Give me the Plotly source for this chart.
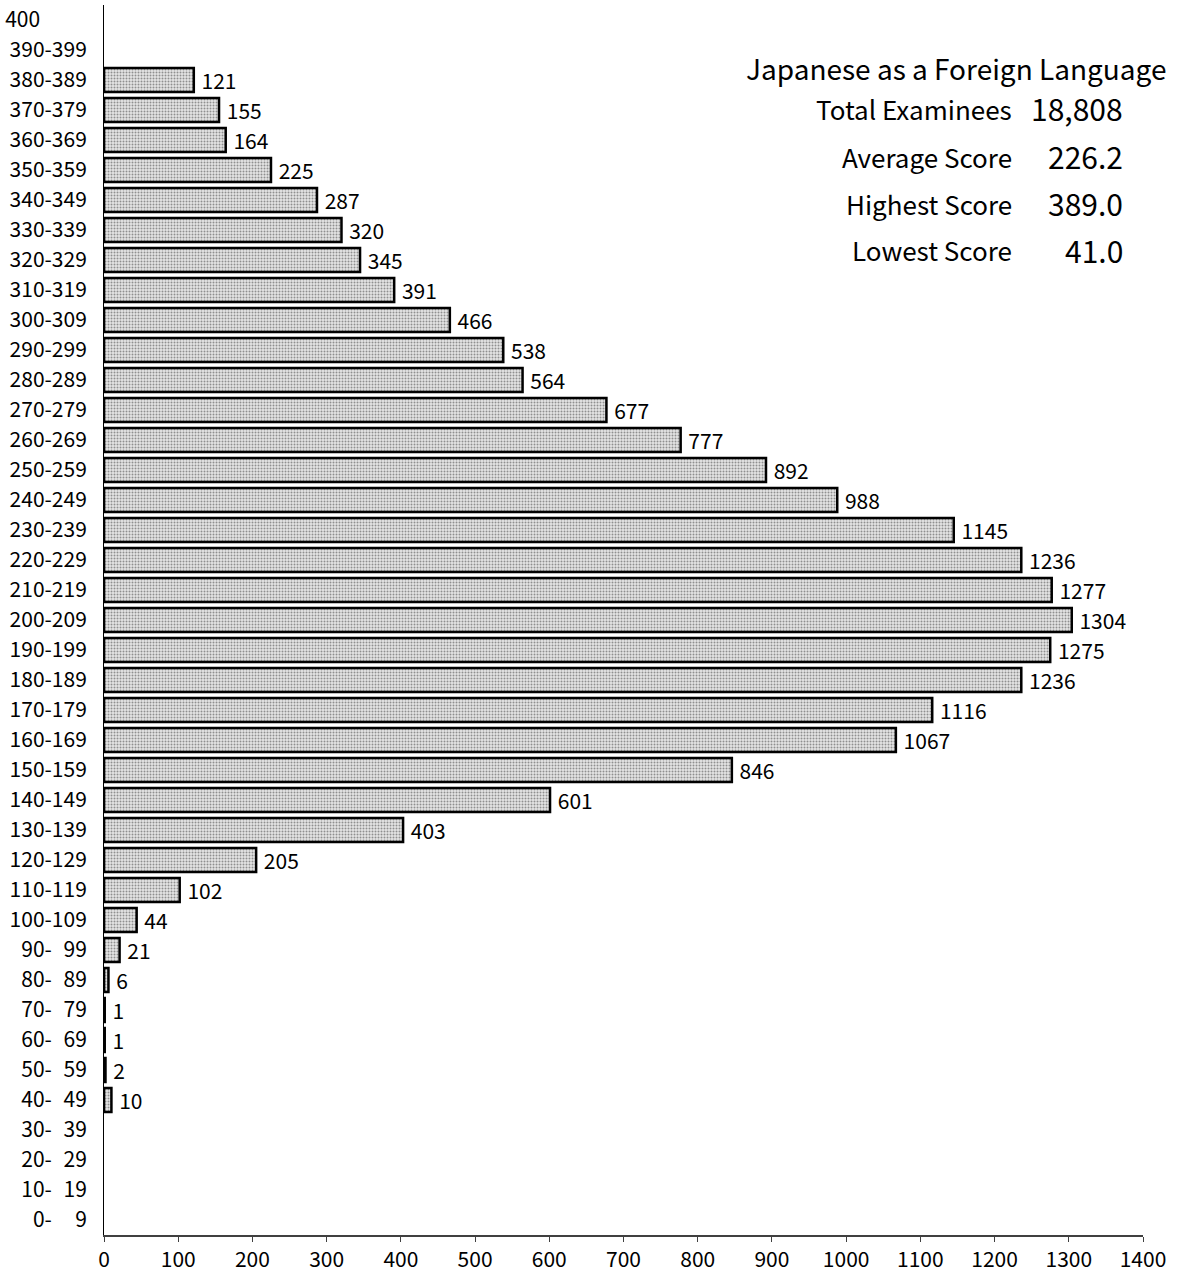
import plotly.graph_objects as go

categories = ["0- 9", "10- 19", "20- 29", "30- 39", "40- 49", "50- 59", "60- 69", "70- 79",
              "80- 89", "90- 99", "100-109", "110-119", "120-129", "130-139", "140-149",
              "150-159", "160-169", "170-179", "180-189", "190-199", "200-209", "210-219",
              "220-229", "230-239", "240-249", "250-259", "260-269", "270-279", "280-289",
              "290-299", "300-309", "310-319", "320-329", "330-339", "340-349", "350-359",
              "360-369", "370-379", "380-389", "390-399", "400"]
counts = [0, 0, 0, 0, 10, 2, 1, 1, 6, 21, 44, 102, 205, 403, 601, 846, 1067, 1116, 1236,
          1275, 1304, 1277, 1236, 1145, 988, 892, 777, 677, 564, 538, 466, 391, 345, 320,
          287, 225, 164, 155, 121, 0, 0]
x_ticks = [0, 100, 200, 300, 400, 500, 600, 700, 800, 900, 1000, 1100, 1200, 1300, 1400]

title_text = "Japanese as a Foreign Language"
stat_labels = ["Total Examinees", "Average Score", "Highest Score", "Lowest Score"]
stat_values = ["18,808", "226.2", "389.0", "41.0"]

FONT = "Noto Sans CJK JP"
FS = "\u2007"  # figure space (digit width)


def fmt_cat(c):
    if c == "400":
        return "400" + FS * 4
    if c == "0- 9":
        return "0-" + FS * 2 + "9"
    return c.replace(" ", FS)


tick_text = [fmt_cat(c) for c in categories]
labels = [" " + str(v) if v > 0 else "" for v in counts]
line_widths = [2.5 if v > 0 else 0 for v in counts]

fig = go.Figure()
fig.add_trace(go.Bar(
    y=categories, x=counts, orientation="h",
    width=0.8,
    marker=dict(color="#dcdcdc",
                line=dict(color="black", width=line_widths),
                pattern=dict(shape=".", fgcolor="#3a3a3a", bgcolor="#e4e4e4",
                             size=3, solidity=0.35)),
    text=labels, textposition="outside", cliponaxis=False, constraintext="none",
    textfont=dict(family=FONT, size=21, color="black"),
    hoverinfo="skip",
))

annotations = [dict(text=title_text, x=1.024, y=0.949, xref="paper", yref="paper",
                    xanchor="right", yanchor="middle", showarrow=False,
                    font=dict(family=FONT, size=28, color="black"))]
ys = [0.916, 0.877, 0.839, 0.801]
for lab, val, yy in zip(stat_labels, stat_values, ys):
    annotations.append(dict(text=lab, x=0.876, y=yy, xref="paper", yref="paper",
                            xanchor="right", yanchor="middle", showarrow=False,
                            font=dict(family=FONT, size=26, color="black")))
    annotations.append(dict(text=val, x=0.983, y=yy, xref="paper", yref="paper",
                            xanchor="right", yanchor="middle", showarrow=False,
                            font=dict(family=FONT, size=30, color="black")))

fig.update_layout(
    width=1180, height=1276,
    margin=dict(l=104, r=37, t=5, b=41),
    plot_bgcolor="white", paper_bgcolor="white",
    showlegend=False,
    annotations=annotations,
    xaxis=dict(range=[0, 1400], tickvals=x_ticks, ticktext=[str(t) for t in x_ticks],
               showgrid=False, zeroline=False, showline=True, linecolor="#404040",
               linewidth=2, ticks="outside", ticklen=5, tickcolor="#404040",
               automargin=False,
               tickfont=dict(family=FONT, size=21, color="black")),
    yaxis=dict(categoryorder="array", categoryarray=categories,
               tickvals=categories, ticktext=tick_text,
               showgrid=False, zeroline=False, showline=True, linecolor="black",
               linewidth=1, ticks="", ticklabelstandoff=12, automargin=False,
               tickfont=dict(family=FONT, size=21, color="black")),
)

fig.write_html("out.html", config={"displayModeBar": False},
               post_script="document.body.style.margin='0';document.body.style.overflow='hidden';")
